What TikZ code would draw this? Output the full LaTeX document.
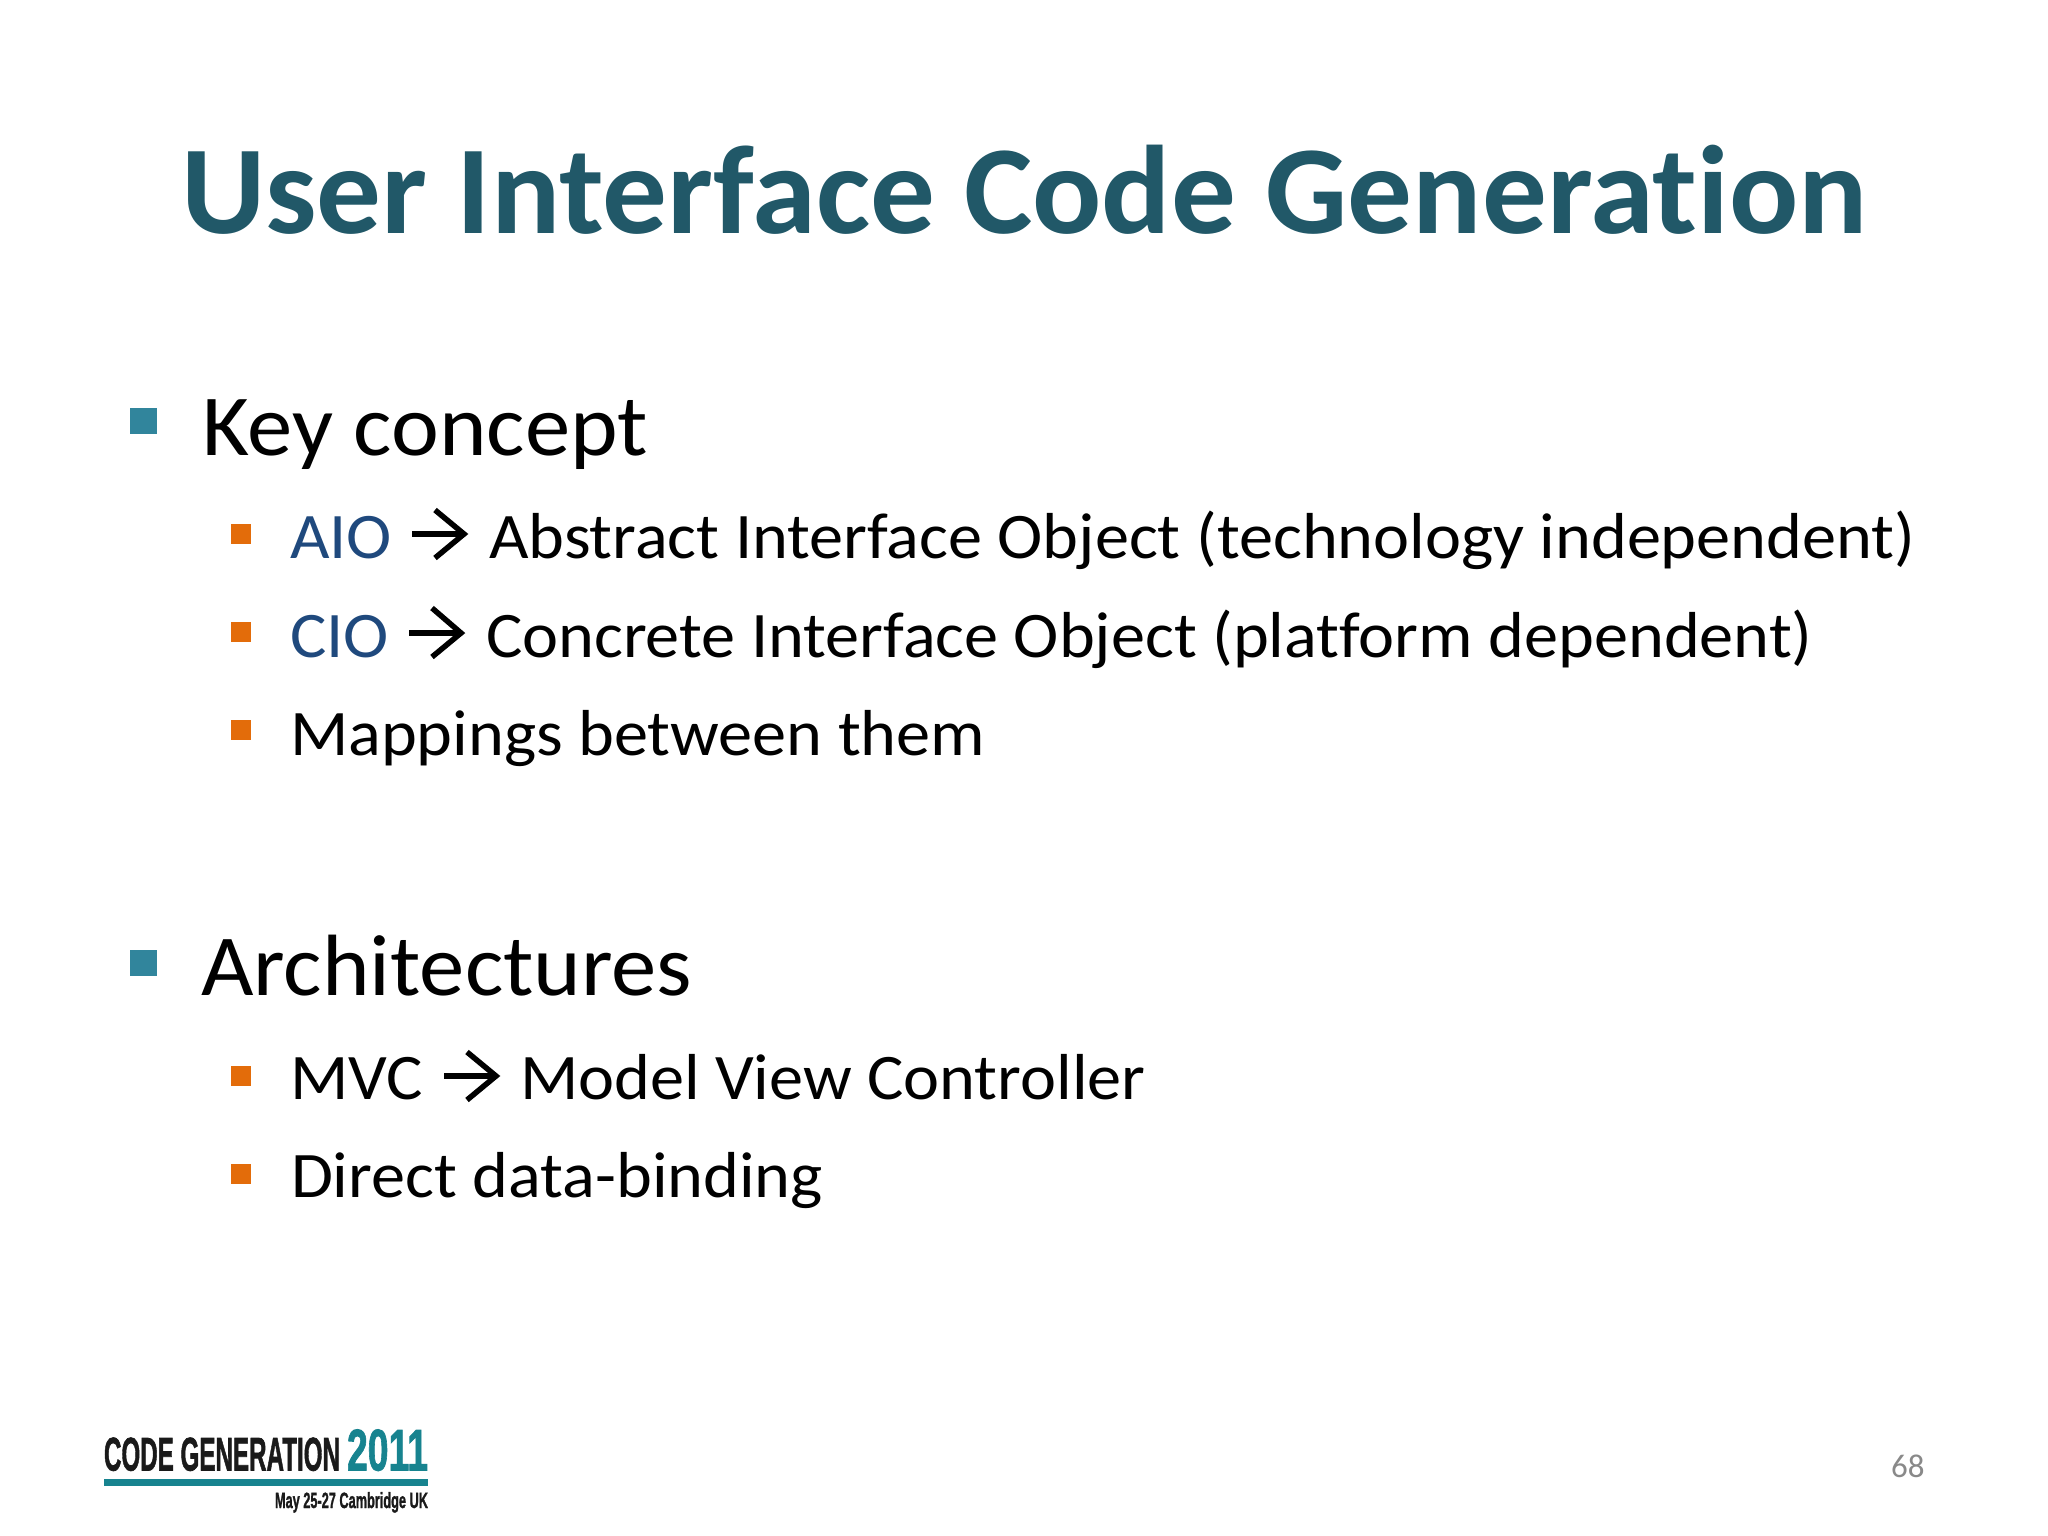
\documentclass[tikz,border=0pt]{standalone}
\usepackage{fontspec}
\usepackage{graphicx}
\setmainfont[Ligatures=NoCommon]{Carlito}
\newfontfamily\logofont[FakeBold=1.6]{Liberation Sans}
\definecolor{titleteal}{HTML}{215868}
\definecolor{bulletteal}{HTML}{31859C}
\definecolor{bulletorange}{HTML}{E36C0A}
\definecolor{termblue}{HTML}{1F497D}
\definecolor{pagegray}{HTML}{898989}
\definecolor{logoteal}{HTML}{17838F}
\definecolor{logoblack}{HTML}{1A1A1A}
\tikzset{
  txt/.style={inner sep=0pt,outer sep=0pt,anchor=base west},
  titletext/.style={txt,text=titleteal,font=\fontsize{126}{126}\selectfont\bfseries\addfontfeature{FakeStretch=1.025}},
  lvlone/.style={txt,text=black,font=\fontsize{87}{87}\selectfont\addfontfeature{FakeStretch=1.042}},
  lvltwo/.style={txt,text=black,font=\fontsize{65}{65}\selectfont\addfontfeature{FakeStretch=1.05}},
  term/.style={lvltwo,text=termblue},
  bigbullet/.style={fill=bulletteal,draw=none},
  smallbullet/.style={fill=bulletorange,draw=none},
  wingarrow/.style={draw=black,line width=5.5pt,miter limit=10},
  logotext/.style={inner sep=0pt,outer sep=0pt,anchor=south west},
}
\begin{document}
\begin{tikzpicture}[x=1pt,y=-1pt]
\useasboundingbox (0,0) rectangle (2048,1536);
\fill[white] (0,0) rectangle (2048,1536);
\node[titletext] (title) at (181,233) {User Interface Code Generation};

\fill[bigbullet] (130,408) rectangle (157,434);
\node[lvlone] (key) at (202,455) {Key concept};

\fill[smallbullet] (231,524) rectangle (251,544);
\node[term] (aio) at (290,558) {AIO};
\draw[wingarrow] (412,534) -- (464,534);
\draw[wingarrow] (435,510) -- (464,534) -- (435,558);
\node[lvltwo] (aiotext) at (489,558) {Abstract Interface Object (technology independent)};

\fill[smallbullet] (231,622) rectangle (251,642);
\node[term] (cio) at (290,657) {CIO};
\draw[wingarrow] (409,633) -- (461,633);
\draw[wingarrow] (432,608) -- (461,633) -- (432,657);
\node[lvltwo] (ciotext) at (486,657) {Concrete Interface Object (platform dependent)};

\fill[smallbullet] (231,720) rectangle (251,740);
\node[lvltwo] (map) at (290,755) {Mappings between them};

\fill[bigbullet] (130,950) rectangle (157,976);
\node[lvlone] (arch) at (201,995) {Architectures};

\fill[smallbullet] (231,1066) rectangle (251,1086);
\node[lvltwo] (mvc) at (290,1099) {MVC};
\draw[wingarrow] (444,1076) -- (496,1076);
\draw[wingarrow] (467,1052) -- (496,1076) -- (467,1100);
\node[lvltwo] (mvctext) at (520,1099) {Model View Controller};

\fill[smallbullet] (231,1164) rectangle (251,1184);
\node[lvltwo] (direct) at (291,1197) {Direct data-binding};

\node[logotext] (logoa) at (104,1471) {\resizebox{236pt}{33pt}{\logofont\bfseries\color{logoblack}CODE GENERATION}};
\node[logotext] (logob) at (347,1471) {\resizebox{81pt}{41pt}{\logofont\bfseries\color{logoteal}2011}};
\fill[logoteal] (104,1479) rectangle (428,1486);
\node[inner sep=0pt,outer sep=0pt,anchor=base west] (logoc) at (275,1508) {\resizebox{153pt}{16pt}{\logofont\bfseries\color{logoblack}May 25-27 Cambridge UK}};

\node[txt,text=pagegray,font=\fontsize{33}{33}\selectfont] (page) at (1891,1477) {68};
\end{tikzpicture}
\end{document}
